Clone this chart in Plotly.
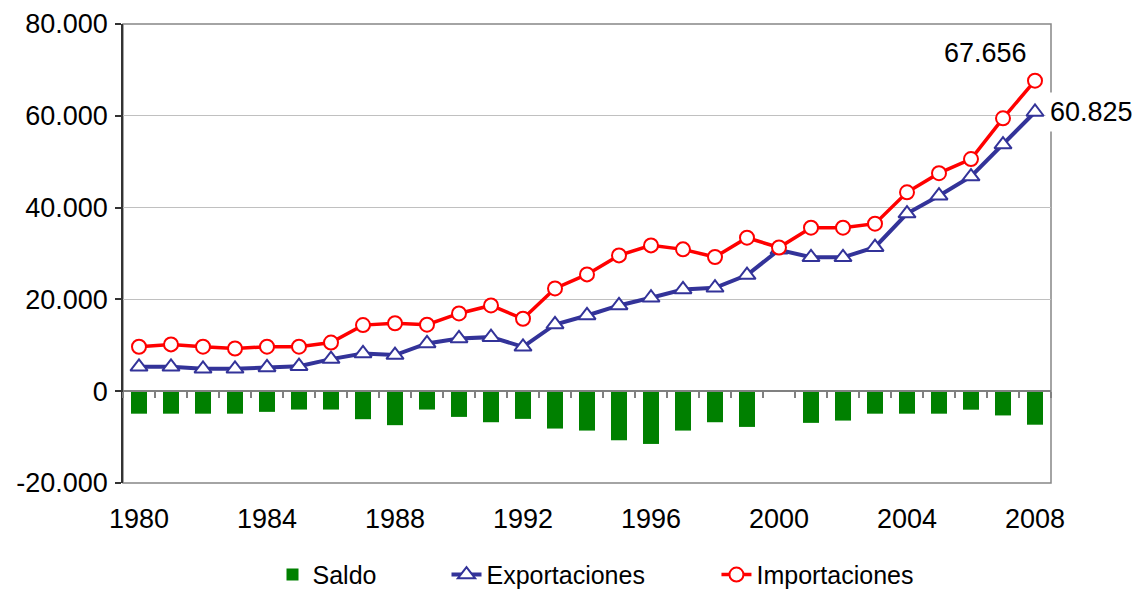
import plotly.graph_objects as go

years = list(range(1980, 2009))

exportaciones = [5320, 5320, 4880, 4880, 5170, 5460, 6990, 8230, 7870, 10400,
                 11500, 11780, 9670, 14540, 16500, 18680, 20360, 22170, 22540, 25300,
                 30800, 29170, 29170, 31370, 38700, 42590, 46770, 53730, 60825]

importaciones = [9690, 10200, 9700, 9300, 9700, 9700, 10600, 14400, 14800, 14500,
                 16940, 18680, 15780, 22390, 25450, 29590, 31770, 30900, 29230, 33440,
                 31300, 35620, 35620, 36500, 43320, 47500, 50580, 59450, 67656]

saldo = [-4900, -4900, -4900, -4900, -4500, -4000, -4000, -6100, -7400, -4000,
         -5600, -6760, -6030, -8140, -8580, -10690, -11490, -8580, -6760, -7780,
         -150, -6900, -6400, -4900, -4900, -4900, -4030, -5280, -7300]

x_tick_vals = [1980, 1984, 1988, 1992, 1996, 2000, 2004, 2008]
y_tick_vals = [-20000, 0, 20000, 40000, 60000, 80000]
y_tick_text = ['-20.000', '0', '20.000', '40.000', '60.000', '80.000']

FONT = 'Liberation Sans, Arial, sans-serif'
ROJO = '#FF0000'
AZUL = '#333399'
VERDE = '#008000'


def miles(v):
    return f'{v:,}'.replace(',', '.')


fig = go.Figure()

fig.add_trace(go.Bar(x=years, y=saldo, name='Saldo', width=0.5,
                     marker=dict(color=VERDE, line=dict(width=0)),
                     xaxis='x2', yaxis='y', legend='legend'))

fig.add_trace(go.Scatter(x=years, y=exportaciones, name='Exportaciones', mode='lines+markers',
                         line=dict(color=AZUL, width=4),
                         marker=dict(symbol='triangle-up', size=15, color='white',
                                     line=dict(color=AZUL, width=2)),
                         legend='legend2'))

fig.add_trace(go.Scatter(x=years, y=importaciones, name='Importaciones', mode='lines+markers',
                         line=dict(color=ROJO, width=3.5),
                         marker=dict(symbol='circle', size=14, color='white',
                                     line=dict(color=ROJO, width=2)),
                         legend='legend3'))

# etiquetas del ultimo año
fig.add_annotation(x=years[-1], y=importaciones[-1], text=miles(importaciones[-1]),
                   showarrow=False, xshift=-50, yshift=28,
                   font=dict(family=FONT, size=27, color='black'))
fig.add_annotation(x=years[-1], y=exportaciones[-1], text=miles(exportaciones[-1]),
                   showarrow=False, xanchor='left', xshift=10, yshift=0,
                   bgcolor='white', borderpad=4,
                   font=dict(family=FONT, size=27, color='black'))

# marco del area de trazado
fig.add_shape(type='rect', xref='paper', yref='paper', x0=0, x1=1, y0=0, y1=1,
              line=dict(color='#868686', width=1.5), layer='below')

leg = dict(orientation='h', yanchor='middle', y=-0.2, xanchor='left',
           font=dict(family=FONT, size=25, color='black'), bgcolor='rgba(0,0,0,0)')

fig.update_layout(
    width=1135, height=589,
    margin=dict(l=123, r=84, t=24, b=106, autoexpand=False),
    paper_bgcolor='white', plot_bgcolor='white',
    font=dict(family=FONT, size=27, color='black'),
    showlegend=True,
    legend=dict(leg, x=0.1611),
    legend2=dict(leg, x=0.3486),
    legend3=dict(leg, x=0.6395),
    xaxis=dict(range=[1979.5, 2008.5], tickmode='array', tickvals=x_tick_vals,
               ticks='', showline=False, showgrid=False, zeroline=False,
               ticklabelstandoff=17, tickfont=dict(size=27)),
    xaxis2=dict(range=[1979.5, 2008.5], overlaying='x', anchor='free', position=0.2,
                tickmode='linear', tick0=1979.5, dtick=1, ticks='outside', ticklen=6,
                tickcolor='#808080', tickwidth=1.5, showticklabels=False,
                showline=True, linecolor='#808080', linewidth=1.5,
                showgrid=False, zeroline=False),
    yaxis=dict(range=[-20000, 80000], tickmode='array', tickvals=y_tick_vals,
               ticktext=y_tick_text, ticks='outside', ticklen=6, tickcolor='#333333',
               tickwidth=1.5, showline=True, linecolor='#333333', linewidth=1.5,
               showgrid=True, gridcolor='#C0C0C0', gridwidth=1, zeroline=False,
               ticklabelstandoff=2, tickfont=dict(size=27)),
)

fig.write_html('out.html', config={'displayModeBar': False},
               post_script="document.body.style.margin='0px';")
